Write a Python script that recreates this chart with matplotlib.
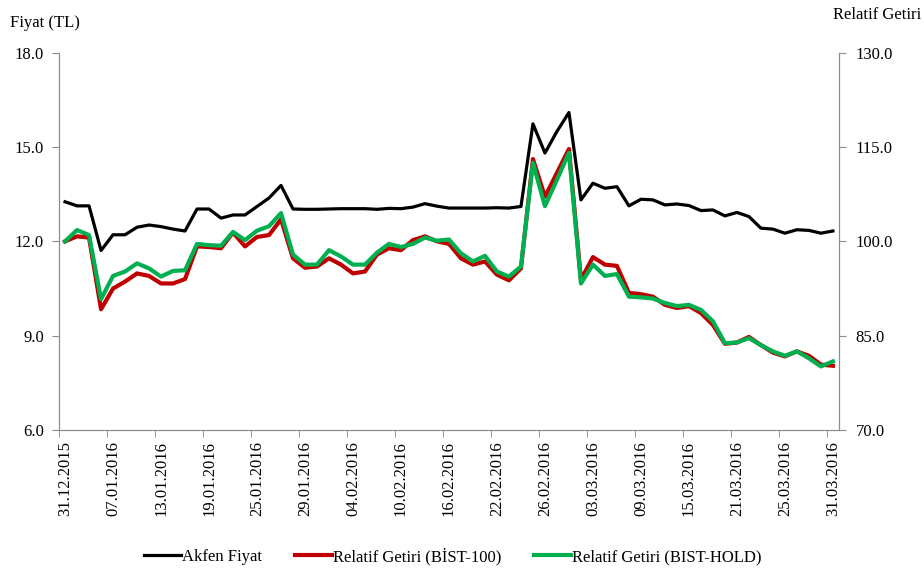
import numpy as np
import matplotlib.pyplot as plt

plt.rcParams['font.family'] = ['Liberation Serif', 'DejaVu Serif']

# tick labels (every 4th trading day)
date_labels = ["31.12.2015", "07.01.2016", "13.01.2016", "19.01.2016", "25.01.2016",
               "29.01.2016", "04.02.2016", "10.02.2016", "16.02.2016", "22.02.2016",
               "26.02.2016", "03.03.2016", "09.03.2016", "15.03.2016", "21.03.2016",
               "25.03.2016", "31.03.2016"]

akfen = [13.26, 13.13, 13.13, 11.71, 12.21, 12.21, 12.45, 12.52, 12.47, 12.39,
         12.33, 13.03, 13.03, 12.74, 12.84, 12.84, 13.11, 13.38, 13.78, 13.03,
         13.02, 13.02, 13.03, 13.04, 13.04, 13.04, 13.02, 13.05, 13.04, 13.09,
         13.20, 13.12, 13.06, 13.06, 13.06, 13.06, 13.07, 13.06, 13.11, 15.74,
         14.81, 15.50, 16.10, 13.32, 13.85, 13.69, 13.74, 13.13, 13.34, 13.32,
         13.16, 13.19, 13.14, 12.98, 13.00, 12.81, 12.92, 12.79, 12.42, 12.39,
         12.26, 12.37, 12.35, 12.26, 12.33]

rel_bist100 = [100.0, 100.8, 100.6, 89.2, 92.5, 93.6, 94.9, 94.5, 93.3, 93.3,
               94.0, 99.2, 99.1, 98.9, 101.4, 99.2, 100.7, 101.0, 103.5, 97.3,
               95.8, 96.0, 97.3, 96.3, 94.9, 95.2, 97.9, 98.9, 98.6, 100.2,
               100.8, 100.0, 99.6, 97.3, 96.3, 96.8, 94.7, 93.8, 95.7, 113.1,
               107.1, 110.9, 114.7, 93.9, 97.5, 96.3, 96.1, 91.8, 91.6, 91.2,
               89.9, 89.4, 89.7, 88.6, 86.7, 83.7, 83.9, 84.8, 83.5, 82.3,
               81.7, 82.5, 81.8, 80.4, 80.2]

rel_hold = [100.0, 101.8, 101.0, 90.8, 94.5, 95.2, 96.5, 95.7, 94.4, 95.3,
            95.4, 99.6, 99.4, 99.3, 101.5, 100.2, 101.7, 102.4, 104.5, 97.9,
            96.3, 96.3, 98.6, 97.6, 96.3, 96.3, 98.2, 99.6, 99.1, 99.6,
            100.6, 100.1, 100.3, 98.1, 96.8, 97.7, 95.2, 94.4, 96.0, 112.5,
            105.6, 109.8, 114.1, 93.3, 96.3, 94.5, 94.8, 91.2, 91.1, 90.9,
            90.2, 89.7, 89.9, 89.1, 87.3, 83.8, 83.9, 84.6, 83.5, 82.5,
            81.8, 82.5, 81.4, 80.1, 80.9]

x = np.arange(len(akfen))
grey = "#8c8c8c"
fs = 12

fig = plt.figure(figsize=(9.24, 5.74), dpi=100)
ax = fig.add_axes([0.0639, 0.251, 0.844, 0.657])
ax2 = ax.twinx()

l1, = ax.plot(x, akfen, color="black", lw=2.3, label="Akfen Fiyat")
l2, = ax2.plot(x, rel_bist100, color="#C00000", lw=3.0, label="Relatif Getiri (BİST-100)")
l3, = ax2.plot(x, rel_hold, color="#00B050", lw=3.0, label="Relatif Getiri (BIST-HOLD)")

ax.set_xlim(-0.5, len(akfen) - 0.5)
ax.set_ylim(6, 18)
ax.set_yticks(np.arange(6, 18.1, 3))
ax.set_yticklabels([f"{v:.1f}" for v in np.arange(6, 18.1, 3)])
ax2.set_ylim(70, 130)
ax2.set_yticks(np.arange(70, 130.1, 15))
ax2.set_yticklabels([f"{v:.1f}" for v in np.arange(70, 130.1, 15)])

# labels at categories, tick marks between categories
ax.set_xticks(x[::4])
ax.set_xticklabels(date_labels, rotation=90)
ax.set_xticks(np.arange(-0.5, len(akfen) - 1, 4), minor=True)
ax.tick_params(axis="x", which="major", length=0, pad=8, labelsize=fs)
ax.tick_params(axis="x", which="minor", length=5, color=grey, direction="out")
ax.tick_params(axis="y", length=5, color=grey, labelsize=fs, pad=6)
ax2.tick_params(axis="y", length=5, color=grey, labelsize=fs, pad=7)

for a in (ax, ax2):
    a.spines["top"].set_visible(False)
    for s in ("left", "right", "bottom"):
        a.spines[s].set_color(grey)

fig.text(0.011, 0.96, "Fiyat (TL)", fontsize=fs, va="center")
fig.text(0.997, 0.974, "Relatif Getiri", fontsize=fs, va="center", ha="right")

fig.legend(handles=[l1, l2, l3], loc="center", bbox_to_anchor=(0.49, 0.031),
           ncol=3, frameon=False, fontsize=fs, handlelength=2.2,
           handletextpad=0.05, columnspacing=2.0)

fig.savefig("out.png", dpi=100)
